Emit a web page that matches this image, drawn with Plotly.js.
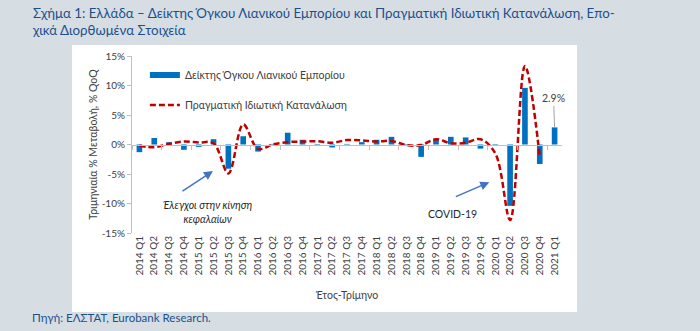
<!DOCTYPE html>
<html>
<head>
<meta charset="utf-8">
<script src="https://cdn.plot.ly/plotly-3.0.1.min.js"></script>
<style>html,body{margin:0;padding:0;background:#d7dee3;}#chart{width:700px;height:331px;}</style>
</head>
<body>
<div id="chart"></div>
<script>
const quarters = ["2014 Q1","2014 Q2","2014 Q3","2014 Q4","2015 Q1","2015 Q2","2015 Q3","2015 Q4",
  "2016 Q1","2016 Q2","2016 Q3","2016 Q4","2017 Q1","2017 Q2","2017 Q3","2017 Q4",
  "2018 Q1","2018 Q2","2018 Q3","2018 Q4","2019 Q1","2019 Q2","2019 Q3","2019 Q4",
  "2020 Q1","2020 Q2","2020 Q3","2020 Q4","2021 Q1"];
const retailVolume = [-1.3, 1.1, 0.4, -0.9, -0.4, 0.9, -4.1, 1.4,
  -1.2, 0.1, 2.0, 0.8, -0.2, -0.5, 0.1, 0.4,
  0.8, 1.3, -0.2, -2.1, 0.8, 1.3, 1.2, -0.7,
  -0.1, -10.4, 9.6, -3.3, 2.9];
const privateConsumption = [-0.2, -0.45, 0.1, 0.5, 0.35, 0.2, -4.9, 3.4,
  -0.75, 0.0, 0.4, 0.5, 0.55, 0.3, 0.75, 0.7,
  0.5, 0.6, -0.1, -0.1, 0.9, 0.2, 0.3, 0.9,
  -1.5, -12.8, 13.3, -2.1, null];
const yTicks = [-15, -10, -5, 0, 5, 10, 15];
const yTickText = ["-15%", "-10%", "-5%", "0%", "5%", "10%", "15%"];
const seriesNames = ["Δείκτης Όγκου Λιανικού Εμπορίου", "Πραγματική Ιδιωτική Κατανάλωση"];
const lastLabel = "2.9%";

const FONT = "Lato, 'Open Sans', sans-serif";
const TXT = "#404040";
const BLUE = "#0070c0";
const RED = "#c00000";

const traces = [
  {type: "bar", x: quarters, y: retailVolume, marker: {color: BLUE}, name: seriesNames[0],
   showlegend: false, legendgroup: "a", hoverinfo: "x+y"},
  {type: "scatter", mode: "lines", x: [null], y: [null], name: seriesNames[0],
   line: {color: BLUE, width: 6}, legendgroup: "a", hoverinfo: "skip"},
  {type: "scatter", mode: "lines", x: quarters, y: privateConsumption, name: seriesNames[1],
   line: {color: RED, width: 2.5, dash: "6px,3px", shape: "spline", smoothing: 1},
   legendgroup: "b", connectgaps: false},
  {type: "scatter", mode: "none", x: quarters, y: quarters.map(() => 0), xaxis: "x2",
   showlegend: false, hoverinfo: "skip"}
];

const layout = {
  width: 700, height: 331,
  paper_bgcolor: "#d7dee3",
  plot_bgcolor: "rgba(0,0,0,0)",
  margin: {l: 132, r: 138, t: 56, b: 98},
  font: {family: FONT, color: TXT, size: 10},
  showlegend: true,
  xaxis: {
    type: "category", range: [-0.5, quarters.length - 0.5],
    showline: false, showgrid: false, zeroline: false,
    ticks: "", tickangle: -90, tickfont: {size: 10, color: TXT},
    title: {text: "Έτος-Τρίμηνο", font: {size: 10.5, color: TXT}, standoff: 17},
    fixedrange: true
  },
  xaxis2: {
    type: "category", overlaying: "x", matches: "x", anchor: "free", position: 0.5,
    side: "bottom", showline: true, linecolor: "#bfbfbf", linewidth: 1,
    ticks: "outside", ticklen: 4, tickcolor: "#bfbfbf", tickson: "boundaries",
    showticklabels: false, showgrid: false, zeroline: false
  },
  yaxis: {
    range: [-15, 15], tickvals: yTicks, ticktext: yTickText,
    showgrid: false, zeroline: false, showline: true, linecolor: "#bfbfbf",
    ticks: "outside", ticklen: 4, tickcolor: "#bfbfbf",
    tickfont: {size: 10, color: TXT},
    title: {text: "Τριμηνιαία % Μεταβολή, % QoQ", font: {size: 10.5, color: TXT}, standoff: 1},
    fixedrange: true
  },
  bargap: 0.62,
  legend: {
    x: 0.03, y: 0.975, xanchor: "left", yanchor: "top",
    bgcolor: "rgba(0,0,0,0)", font: {size: 10.5, color: TXT},
    traceorder: "grouped", tracegroupgap: 11, itemwidth: 30
  },
  shapes: [
    {type: "rect", xref: "paper", yref: "paper", x0: -0.1395, x1: 1.0349, y0: -0.446, y1: 1.062,
     fillcolor: "#ffffff", line: {width: 0}, layer: "below"}
  ],
  annotations: [
    {xref: "paper", yref: "paper", x: -0.2372, y: 1.2994, xanchor: "left", yanchor: "top", align: "left",
     text: "Σχήμα 1: Ελλάδα – Δείκτης Όγκου Λιανικού Εμπορίου και Πραγματική Ιδιωτική Κατανάλωση, Επο-<br>χικά Διορθωμένα Στοιχεία",
     showarrow: false, font: {family: FONT, size: 13.3, color: "#1b4f8c"}},
    {xref: "x", yref: "y", x: 4.6, y: -11.5, text: "<i>Έλεγχοι στην κίνηση<br>κεφαλαίων</i>",
     showarrow: false, font: {size: 10.5, color: "#262626"}, align: "center"},
    {xref: "x", yref: "y", x: 4.96, y: -4.5, ax: -32, ay: 21, text: "", showarrow: true,
     arrowhead: 2, arrowsize: 1.2, arrowwidth: 1.5, arrowcolor: "#4472c4"},
    {xref: "x", yref: "y", x: 21.1, y: -11.8, text: "COVID-19",
     showarrow: false, font: {size: 10.5, color: "#262626"}},
    {xref: "x", yref: "y", x: 23.6, y: -6.4, ax: -35, ay: 15, text: "", showarrow: true,
     arrowhead: 2, arrowsize: 1.2, arrowwidth: 1.5, arrowcolor: "#4472c4"},
    {xref: "x", yref: "y", x: quarters[quarters.length - 1], y: retailVolume[retailVolume.length - 1],
     text: lastLabel, showarrow: true, arrowhead: 0, arrowwidth: 1, arrowcolor: "#a6a6a6",
     ax: -1, ay: -29, font: {size: 10.5, color: TXT}},
    {xref: "paper", yref: "paper", x: -0.2372, y: -0.4746, xanchor: "left", yanchor: "middle",
     text: "Πηγή: ΕΛΣΤΑΤ, Eurobank Research.", showarrow: false,
     font: {family: FONT, size: 11.5, color: "#1b4f8c"}}
  ]
};

Plotly.newPlot("chart", traces, layout, {displayModeBar: false, staticPlot: true});
</script>
</body>
</html>
